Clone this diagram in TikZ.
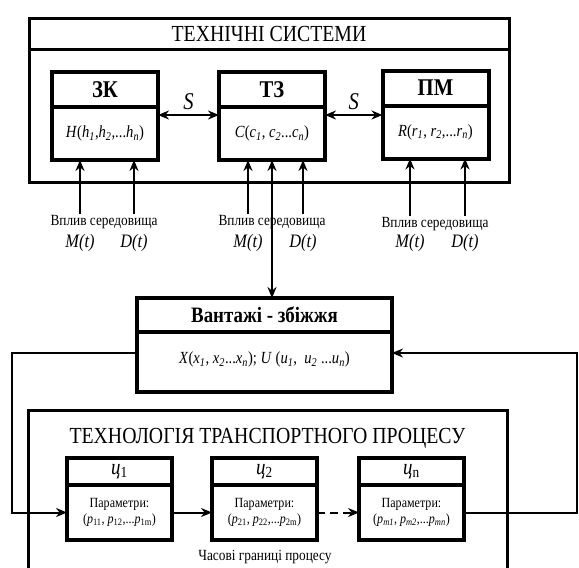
\documentclass[tikz,border=0pt]{standalone}
\usepackage{fontspec}
\setmainfont[FakeStretch=0.86]{Liberation Serif}
\usetikzlibrary{positioning,arrows.meta}
\newcommand\vsub[2]{\textit{#1}\textsubscript{\textit{#2}}}
\tikzset{
  frame/.style={draw, line width=3pt, outer sep=0pt, inner sep=0pt},
  ttl/.style ={font=\fontsize{23}{25}\selectfont},
  hdr/.style ={draw, line width=4pt, outer sep=0pt, inner sep=0pt, minimum width=106pt, minimum height=35pt, font=\fontsize{24}{26}\selectfont\bfseries},
  body/.style={draw, line width=4pt, outer sep=0pt, inner sep=0pt, minimum width=106pt, minimum height=53pt, font=\fontsize{17}{19}\selectfont},
  chdr/.style={draw, line width=3.5pt, outer sep=0pt, inner sep=0pt, minimum width=105pt, minimum height=27pt, font=\fontsize{22}{24}\selectfont},
  cbody/.style={draw, line width=3.5pt, outer sep=0pt, inner sep=0pt, minimum width=105pt, minimum height=55pt, align=center, font=\fontsize{14}{16}\selectfont},
  envlab/.style={inner sep=1pt, font=\fontsize{15.5}{17}\selectfont},
  fn/.style  ={inner sep=1pt, font=\fontsize{19}{21}\selectfont\itshape},
  arr/.style ={-{Stealth[length=11pt, width=9pt]}, line width=2pt},
  dbl/.style ={{Stealth[length=11pt, width=9pt]}-{Stealth[length=11pt, width=9pt]}, line width=2pt},
}
\begin{document}
\begin{tikzpicture}[x=1pt, y=-1pt]
  \clip (0,0) rectangle (579,568);
  % technical systems
  \node[frame, ttl, minimum width=480pt, minimum height=31pt] (ts) at (269,33.5) {ТЕХНІЧНІ СИСТЕМИ};
  \node[frame, minimum width=480pt, minimum height=133pt, below=0pt of ts] (tsb) {};
  \node[hdr] (zkh) at (105,89.5) {ЗК};
  \node[body, below=0pt of zkh] (zkb) {\textit{H}(\vsub{h}{1},\vsub{h}{2},...\vsub{h}{n})};
  \node[hdr] (tzh) at (272,89.5) {ТЗ};
  \node[body, below=0pt of tzh] (tzb) {\textit{C}(\vsub{c}{1}, \vsub{c}{2}...\vsub{c}{n})};
  \node[hdr] (pmh) at (435.5,88) {ПМ};
  \node[body, below=0pt of pmh] (pmb) {\textit{R}(\vsub{r}{1}, \vsub{r}{2},...\vsub{r}{n})};
  \draw[dbl] ([yshift=-8pt]zkb.north east) -- ([yshift=-8pt]tzb.north west) node[midway, above=3pt, fn, font=\fontsize{24}{26}\selectfont\itshape] {S};
  \draw[dbl] ([yshift=-8pt]tzb.north east) -- ([yshift=-8pt]tzb.north east -| pmb.west) node[midway, above=3pt, fn, font=\fontsize{24}{26}\selectfont\itshape] {S};
  % environment
  \node[envlab] (e1) at (104,222) {Вплив середовища};
  \node[envlab] (e2) at (272,222) {Вплив середовища};
  \node[envlab] (e3) at (435,224) {Вплив середовища};
  \node[fn] (m1) at (80,243) {M(t)};
  \node[fn] (d1) at (134,243) {D(t)};
  \node[fn] (m2) at (248,243) {M(t)};
  \node[fn] (d2) at (303,243) {D(t)};
  \node[fn] (m3) at (410,243) {M(t)};
  \node[fn] (d3) at (465,243) {D(t)};
  \draw[arr] (m1 |- e1.north) -- (m1 |- zkb.south);
  \draw[arr] (d1 |- e1.north) -- (d1 |- zkb.south);
  \draw[arr] (m2 |- e2.north) -- (m2 |- tzb.south);
  \draw[arr] (d2 |- e2.north) -- (d2 |- tzb.south);
  \draw[arr] (m3 |- e3.north) -- (m3 |- pmb.south);
  \draw[arr] (d3 |- e3.north) -- (d3 |- pmb.south);
  % cargo
  \node[hdr, font=\fontsize{22}{24}\selectfont\bfseries, minimum width=255pt, minimum height=34pt] (vzh) at (264.5,315) {Вантажі - збіжжя};
  \node[body, minimum width=255pt, minimum height=60pt, below=0pt of vzh] (vzb) {\raisebox{8pt}{\textit{X}(\vsub{x}{1}, \vsub{x}{2}...\vsub{x}{n}); \textit{U} (\vsub{u}{1},\ \ \vsub{u}{2} ...\vsub{u}{n})}};
  \draw[dbl] (tzb.south) -- (tzb.south |- vzh.north);
  % transport process
  \node[frame, minimum width=479pt, minimum height=200pt, anchor=north west] (tp) at (28,410) {};
  \node[ttl] (tpt) at (267.5,438) {ТЕХНОЛОГІЯ ТРАНСПОРТНОГО ПРОЦЕСУ};
  \node[chdr] (c1h) at (119.5,471.5) {\textit{ц}\textsubscript{1}};
  \node[cbody, below=0pt of c1h] (c1b) {Параметри:\\(\textit{p}\textsubscript{11}, \textit{p}\textsubscript{12},...\textit{p}\textsubscript{1m})};
  \node[chdr] (c2h) at (264.5,471.5) {\textit{ц}\textsubscript{2}};
  \node[cbody, below=0pt of c2h] (c2b) {Параметри:\\(\textit{p}\textsubscript{21}, \textit{p}\textsubscript{22},...\textit{p}\textsubscript{2m})};
  \node[chdr] (cnh) at (411.5,471.5) {\textit{ц}\textsubscript{n}};
  \node[cbody, below=0pt of cnh] (cnb) {Параметри:\\(\vsub{p}{m1}, \vsub{p}{m2},...\vsub{p}{mn})};
  \node[envlab] (tb) at (265,557) {Часові границі процесу};
  \draw[arr] (c1b) -- (c2b);
  \draw[arr, dashed, dash pattern=on 8pt off 5pt] (c2b) -- (cnb);
  % feedback
  \coordinate (vzl) at ([yshift=9pt]vzb.west);
  \coordinate (vzr) at ([yshift=9pt]vzb.east);
  \coordinate (lft) at (12,0);
  \coordinate (rgt) at (577,0);
  \draw[arr] (vzl) -| (lft |- c1b.west) -- (c1b.west);
  \draw[arr] (cnb.east) -| (rgt |- vzr) -- (vzr);
\end{tikzpicture}
\end{document}
